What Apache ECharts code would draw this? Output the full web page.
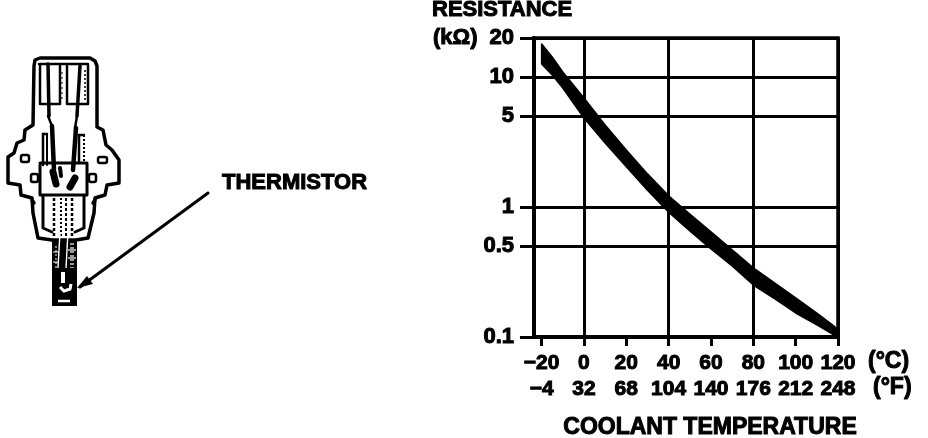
<!DOCTYPE html>
<html><head><meta charset="utf-8">
<style>html,body{margin:0;padding:0;background:#fff}#c{width:928px;height:438px}</style>
<script src="https://cdn.jsdelivr.net/npm/echarts@6/dist/echarts.min.js"></script>
</head><body><div id="c"></div>
<script>
const temperatures = [-20,-15,-10,0,10,20,30,40,50,60,70,80,90,100,110,118,120];
const resistanceUpper = [18.0,14.3,10.95,6.9,4.28,2.75,1.80,1.22,0.885,0.644,0.468,0.340,0.261,0.200,0.153,0.122,0.1135];
const resistanceLower = [12.6,10.4,8.25,4.85,3.11,2.04,1.35,0.913,0.655,0.476,0.352,0.251,0.197,0.153,0.124,0.104,0.1];
const celsiusTicks = [-20,0,20,40,60,80,100,120];
const fahrenheitLabels = ['\u22124','32','68','104','140','176','212','248'];
const gridTemps = [0,40,80,120];
const resistanceTicks = [0.1,0.5,1,5,10,20];
const X_MIN = -23.6;

const font = '"Liberation Sans", Arial, sans-serif';
const inkText = (text,x,y,size,align) => ({type:'text',silent:true,z:20,style:{text,x,y,fill:'#000',stroke:'#000',lineWidth:1,
  font:`bold ${size}px ${font}`,textAlign:align||'left',textVerticalAlign:'middle'}});
const line = (points,w,dash) => ({type:'polyline',silent:true,z:10,shape:{points},style:{stroke:'#000',fill:null,lineWidth:w||3.5,lineJoin:'round',lineCap:dash?'butt':'round',lineDash:dash||null}});
const box = (x,y,width,height,fill,r) => ({type:'rect',silent:true,z:10,shape:{x,y,width,height,r:r||0},style:{fill:fill?'#000':'#fff',stroke:'#000',lineWidth:fill?0:2.5}});
const white = (points,w,dash) => ({type:'polyline',silent:true,z:12,shape:{points},style:{stroke:'#fff',fill:null,lineWidth:w||1.2,lineDash:dash||null}});

const sensor = [
  line([[34,66],[35,60],[40,58],[90,58],[95,61],[97,66],[97,127],[103,130],[106,145],[112,150],[119,160],[119,183],[107,185],[105,195],[95,198],[94,213],[88,238],[76,240],
        [52,240],[38,238],[33,213],[32,198],[21,195],[20,185],[8,183],[8,157],[14,153],[17,143],[24,140],[25,130],[33,125],[34,66]]),
  line([[39,64],[88,64]],2.5),
  line([[40,65],[40,104],[60,104],[60,66]],2.5),
  line([[67,66],[67,104],[88,104],[88,65]],2.5),
  line([[85,70],[85,102]],1.5,[2,2]),
  line([[62,72],[62,102]],1,[2,3]),
  line([[48,64],[49,116]],3.5), line([[80,66],[77,116]],3.5),
  line([[52,126],[54,170]],4.5), line([[76,128],[73,170]],4.5),
  line([[48,116],[52,126]],2.5), line([[77,116],[75,128]],2.5),
  line([[43,134],[43,165]],2.5), line([[47,134],[47,165]],2), line([[43,134],[47,134]],2.5),
  line([[79,135],[79,163]],2.5), line([[84,135],[84,163]],2,[2,2]), line([[79,135],[84,135]],2.5),
  line([[40,165],[40,195],[87,195],[87,163],[40,163]],3),
  line([[43,196],[43,228],[52,232]],3), line([[84,196],[84,228],[75,232]],3),
  line([[32,200],[34,203]],3.5), line([[95,200],[93,203]],3.5),
  line([[54,198],[54,238]],2.5,[3,2]), line([[61,198],[61,238]],2,[2,2]),
  line([[66,198],[66,238]],2,[3,2]), line([[72,198],[72,238]],2.5,[3,2]),
  box(21,155,8,7,false,2), box(98,157,9,6,false,2), box(31,174,7,8,false,2), box(89,174,7,8,false,2),
  line([[53,172],[56,184]],7), line([[75,178],[70,187]],7), line([[60,168],[61,176]],4),
  box(52,240,25,66,true),
  white([[60,232],[58,268]],1.4), white([[68,232],[66,268]],1.4), white([[56,246],[56,268]],1,[2,2]), white([[71,243],[71,268]],1.2,[2,2]),
  white([[73,243],[73,268]],1.2,[2,2]),
  white([[53,252],[59,252]],1), white([[68,250],[76,250]],1.2), white([[53,262],[59,262]],1), white([[68,258],[76,258]],1.2),
  white([[63,272],[63,283]],4), white([[60,287],[64,291],[70,289],[71,284]],3), white([[58,301],[70,301]],2.5),
  line([[208,193],[80,287]],3),
  {type:'polygon',silent:true,z:10,shape:{points:[[77,288],[87,276],[93,284]]},style:{fill:'#000'}},
];

const chart = echarts.init(document.getElementById('c'),null,{renderer:'canvas'});
chart.setOption({
  animation:false,
  backgroundColor:'#fff',
  grid:{left:534,top:38,width:304,height:299,show:true,borderColor:'#000',borderWidth:3.5,backgroundColor:'transparent'},
  xAxis:[{
    type:'value',min:X_MIN,max:120,position:'bottom',
    axisLine:{show:true,onZero:false,lineStyle:{color:'#000',width:4}},
    axisTick:{show:true,customValues:celsiusTicks,length:9,lineStyle:{color:'#000',width:3}},
    axisLabel:{show:true,customValues:celsiusTicks,margin:13,color:'#000',fontFamily:font,fontWeight:'bold',fontSize:21,lineHeight:26,
      textBorderColor:'#000',textBorderWidth:1,hideOverlap:false,
      formatter:v=>{const i=celsiusTicks.indexOf(v);return String(v).replace('-','\u2212')+'\n'+fahrenheitLabels[i];}},
    splitLine:{show:false}
  },{
    type:'value',min:X_MIN,max:120,position:'bottom',
    axisLine:{show:false,onZero:false},
    axisTick:{show:false,customValues:gridTemps},
    axisLabel:{show:false,customValues:gridTemps},
    splitLine:{show:true,lineStyle:{color:'#000',width:3}}
  }],
  yAxis:{
    type:'log',logBase:10,min:0.1,max:20,
    axisLine:{show:true,onZero:false,lineStyle:{color:'#000',width:4}},
    axisTick:{show:true,customValues:resistanceTicks,length:14,lineStyle:{color:'#000',width:3}},
    axisLabel:{show:true,customValues:resistanceTicks,margin:20,color:'#000',fontFamily:font,fontWeight:'bold',fontSize:22,
      textBorderColor:'#000',textBorderWidth:1,hideOverlap:false},
    splitLine:{show:true,lineStyle:{color:'#000',width:3}}
  },
  series:[{
    type:'custom',coordinateSystem:'cartesian2d',xAxisIndex:0,yAxisIndex:0,z:5,silent:true,clip:false,
    data:[[temperatures[0],resistanceUpper[0]]],
    renderItem:(params,api)=>{
      const pts=[];
      temperatures.forEach((t,i)=>pts.push(api.coord([t,resistanceUpper[i]])));
      for(let i=temperatures.length-1;i>=0;i--)pts.push(api.coord([temperatures[i],resistanceLower[i]]));
      return {type:'polygon',shape:{points:pts},style:{fill:'#000',stroke:'#000',lineWidth:1.5,lineJoin:'round'}};
    }
  }],
  graphic:{elements:[
    ...sensor,
    inkText('THERMISTOR',222,183,22),
    inkText('RESISTANCE',432,10,22),
    inkText('(k\u03a9)',433,38,22),
    inkText('(\u00b0C)',868,362,23),
    inkText('(\u00b0F)',873,388,23),
    inkText('COOLANT TEMPERATURE',710,428,23,'center'),
  ]}
});
</script></body></html>
